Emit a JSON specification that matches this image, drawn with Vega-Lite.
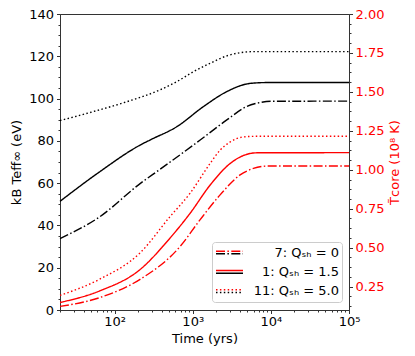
{
"$schema": "https://vega.github.io/schema/vega-lite/v6.json",
"width": 289, "height": 296,
"autosize": {"type": "none"},
"padding": {"left": 60, "top": 14, "right": 66, "bottom": 46},
"config": {
  "font": "DejaVu Sans",
  "view": {"stroke": "#333", "strokeWidth": 1},
  "axis": {"grid": false, "domainColor": "#333", "tickColor": "#333", "labelFontSize": 13, "titleFontSize": 13, "titleFontWeight": "normal", "labelColor": "black", "titleColor": "black", "labelFlush": false, "labelOverlap": false, "tickWidth": 1, "domainWidth": 1}
},
"datasets": {
  "teff": [
    {"t": 20, "v": 33.8, "model": "7: Qₛₕ = 0"},
    {"t": 64, "v": 44, "model": "7: Qₛₕ = 0"},
    {"t": 212, "v": 59.8, "model": "7: Qₛₕ = 0"},
    {"t": 380, "v": 66.5, "model": "7: Qₛₕ = 0"},
    {"t": 1245, "v": 80.4, "model": "7: Qₛₕ = 0"},
    {"t": 2730, "v": 89.9, "model": "7: Qₛₕ = 0"},
    {"t": 4900, "v": 96.2, "model": "7: Qₛₕ = 0"},
    {"t": 7200, "v": 98.1, "model": "7: Qₛₕ = 0"},
    {"t": 10000, "v": 98.7, "model": "7: Qₛₕ = 0"},
    {"t": 100000, "v": 98.8, "model": "7: Qₛₕ = 0"},
    {"t": 20, "v": 51.4, "model": "1: Qₛₕ = 1.5"},
    {"t": 64, "v": 65.3, "model": "1: Qₛₕ = 1.5"},
    {"t": 212, "v": 78, "model": "1: Qₛₕ = 1.5"},
    {"t": 284, "v": 80.4, "model": "1: Qₛₕ = 1.5"},
    {"t": 625, "v": 86.7, "model": "1: Qₛₕ = 1.5"},
    {"t": 1370, "v": 96.2, "model": "1: Qₛₕ = 1.5"},
    {"t": 2730, "v": 103.3, "model": "1: Qₛₕ = 1.5"},
    {"t": 4900, "v": 106.9, "model": "1: Qₛₕ = 1.5"},
    {"t": 7200, "v": 107.5, "model": "1: Qₛₕ = 1.5"},
    {"t": 10000, "v": 107.6, "model": "1: Qₛₕ = 1.5"},
    {"t": 100000, "v": 107.6, "model": "1: Qₛₕ = 1.5"},
    {"t": 20, "v": 89.6, "model": "11: Qₛₕ = 5.0"},
    {"t": 53, "v": 93.8, "model": "11: Qₛₕ = 5.0"},
    {"t": 143, "v": 98.5, "model": "11: Qₛₕ = 5.0"},
    {"t": 380, "v": 104.1, "model": "11: Qₛₕ = 5.0"},
    {"t": 625, "v": 108, "model": "11: Qₛₕ = 5.0"},
    {"t": 1020, "v": 112.7, "model": "11: Qₛₕ = 5.0"},
    {"t": 1670, "v": 116.7, "model": "11: Qₛₕ = 5.0"},
    {"t": 2730, "v": 120.2, "model": "11: Qₛₕ = 5.0"},
    {"t": 4040, "v": 121.7, "model": "11: Qₛₕ = 5.0"},
    {"t": 6000, "v": 122.2, "model": "11: Qₛₕ = 5.0"},
    {"t": 100000, "v": 122.2, "model": "11: Qₛₕ = 5.0"}
  ],
  "tcore": [
    {"t": 20, "v": 0.123, "model": "7: Qₛₕ = 0"},
    {"t": 64, "v": 0.179, "model": "7: Qₛₕ = 0"},
    {"t": 212, "v": 0.297, "model": "7: Qₛₕ = 0"},
    {"t": 690, "v": 0.508, "model": "7: Qₛₕ = 0"},
    {"t": 1245, "v": 0.68, "model": "7: Qₛₕ = 0"},
    {"t": 2240, "v": 0.839, "model": "7: Qₛₕ = 0"},
    {"t": 4040, "v": 0.967, "model": "7: Qₛₕ = 0"},
    {"t": 5980, "v": 1.009, "model": "7: Qₛₕ = 0"},
    {"t": 9000, "v": 1.024, "model": "7: Qₛₕ = 0"},
    {"t": 100000, "v": 1.024, "model": "7: Qₛₕ = 0"},
    {"t": 20, "v": 0.148, "model": "1: Qₛₕ = 1.5"},
    {"t": 64, "v": 0.222, "model": "1: Qₛₕ = 1.5"},
    {"t": 212, "v": 0.36, "model": "1: Qₛₕ = 1.5"},
    {"t": 513, "v": 0.562, "model": "1: Qₛₕ = 1.5"},
    {"t": 926, "v": 0.721, "model": "1: Qₛₕ = 1.5"},
    {"t": 1670, "v": 0.902, "model": "1: Qₛₕ = 1.5"},
    {"t": 3020, "v": 1.041, "model": "1: Qₛₕ = 1.5"},
    {"t": 4470, "v": 1.092, "model": "1: Qₛₕ = 1.5"},
    {"t": 6600, "v": 1.109, "model": "1: Qₛₕ = 1.5"},
    {"t": 100000, "v": 1.11, "model": "1: Qₛₕ = 1.5"},
    {"t": 20, "v": 0.194, "model": "11: Qₛₕ = 5.0"},
    {"t": 64, "v": 0.297, "model": "11: Qₛₕ = 5.0"},
    {"t": 212, "v": 0.467, "model": "11: Qₛₕ = 5.0"},
    {"t": 513, "v": 0.7, "model": "11: Qₛₕ = 5.0"},
    {"t": 926, "v": 0.85, "model": "11: Qₛₕ = 5.0"},
    {"t": 1670, "v": 1.041, "model": "11: Qₛₕ = 5.0"},
    {"t": 2240, "v": 1.126, "model": "11: Qₛₕ = 5.0"},
    {"t": 3020, "v": 1.179, "model": "11: Qₛₕ = 5.0"},
    {"t": 4470, "v": 1.211, "model": "11: Qₛₕ = 5.0"},
    {"t": 6600, "v": 1.215, "model": "11: Qₛₕ = 5.0"},
    {"t": 100000, "v": 1.215, "model": "11: Qₛₕ = 5.0"}
  ]
},
"encoding": {
  "x": {"field": "t", "type": "quantitative", "title": "Time (yrs)",
    "scale": {"type": "log", "domain": [20, 100000], "nice": false},
    "axis": {
      "values": [20,30,40,50,60,70,80,90,100,200,300,400,500,600,700,800,900,1000,2000,3000,4000,5000,6000,7000,8000,9000,10000,20000,30000,40000,50000,60000,70000,80000,90000,100000],
      "labelExpr": "datum.value == 100 ? '10²' : datum.value == 1000 ? '10³' : datum.value == 10000 ? '10⁴' : datum.value == 100000 ? '10⁵' : ''",
      "tickSize": {"condition": {"test": "datum.value == 100 || datum.value == 1000 || datum.value == 10000 || datum.value == 100000", "value": 3.5}, "value": 2},
      "labelPadding": 2, "titlePadding": 4
    }
  }
},
"layer": [
  {
    "data": {"name": "teff"},
    "mark": {"type": "line", "color": "black", "strokeWidth": 1.4, "interpolate": "monotone"},
    "encoding": {
      "y": {"field": "v", "type": "quantitative", "title": "kB Teff∞ (eV)",
        "scale": {"domain": [0, 140], "nice": false},
        "axis": {
          "orient": "left",
          "values": [0,5,10,15,20,25,30,35,40,45,50,55,60,65,70,75,80,85,90,95,100,105,110,115,120,125,130,135,140],
          "labelExpr": "datum.value % 20 === 0 ? datum.label : ''",
          "tickSize": {"condition": {"test": "datum.value % 20 === 0", "value": 3.5}, "value": 2},
          "labelPadding": 3, "titlePadding": 5
        }
      },
      "strokeDash": {"field": "model", "type": "nominal",
        "scale": {"domain": ["7: Qₛₕ = 0", "1: Qₛₕ = 1.5", "11: Qₛₕ = 5.0"], "range": [[9, 2.4, 1.5, 2.4], [1, 0], [1.5, 2.4]]},
        "legend": {"title": null, "orient": "none", "legendX": 152, "legendY": 228, "symbolType": "M-1,0.1H1", "symbolSize": 729, "symbolStrokeWidth": 1.5, "symbolStrokeColor": "black", "labelFontSize": 13, "labelColor": "transparent", "labelAlign": "right", "labelOffset": 95, "labelLimit": 300, "clipHeight": 15, "rowPadding": 4.3, "padding": 3}
      }
    }
  },
  {
    "data": {"name": "tcore"},
    "mark": {"type": "line", "color": "red", "strokeWidth": 1.4, "interpolate": "monotone"},
    "encoding": {
      "y": {"field": "v", "type": "quantitative", "title": "T̃core (10⁸ K)",
        "scale": {"domain": [0.1, 2.0], "nice": false},
        "axis": {
          "orient": "right",
          "values": [0.125,0.1875,0.25,0.3125,0.375,0.4375,0.5,0.5625,0.625,0.6875,0.75,0.8125,0.875,0.9375,1,1.0625,1.125,1.1875,1.25,1.3125,1.375,1.4375,1.5,1.5625,1.625,1.6875,1.75,1.8125,1.875,1.9375,2],
          "labelExpr": "abs(datum.value * 4 - round(datum.value * 4)) < 0.001 ? format(datum.value, '.2f') : ''",
          "tickSize": {"condition": {"test": "abs(datum.value * 4 - round(datum.value * 4)) < 0.001", "value": 3.5}, "value": 2},
          "labelColor": "red", "titleColor": "red", "titleAngle": 270, "titleBaseline": "top",
          "labelPadding": 2.5, "titlePadding": 5
        }
      },
      "strokeDash": {"field": "model", "type": "nominal",
        "scale": {"domain": ["7: Qₛₕ = 0", "1: Qₛₕ = 1.5", "11: Qₛₕ = 5.0"], "range": [[9, 2.4, 1.5, 2.4], [1, 0], [1.5, 2.4]]},
        "legend": {"title": null, "orient": "none", "legendX": 152, "legendY": 228, "symbolType": "M-1,-0.1H1", "symbolSize": 729, "symbolStrokeWidth": 1.5, "symbolStrokeColor": "red", "labelFontSize": 13, "labelColor": "black", "labelAlign": "right", "labelOffset": 95, "labelLimit": 300, "clipHeight": 15, "rowPadding": 4.3, "padding": 3, "strokeColor": "#ccc", "cornerRadius": 3}
      }
    }
  }
],
"resolve": {"scale": {"y": "independent", "strokeDash": "independent"}, "legend": {"strokeDash": "independent"}}
}
